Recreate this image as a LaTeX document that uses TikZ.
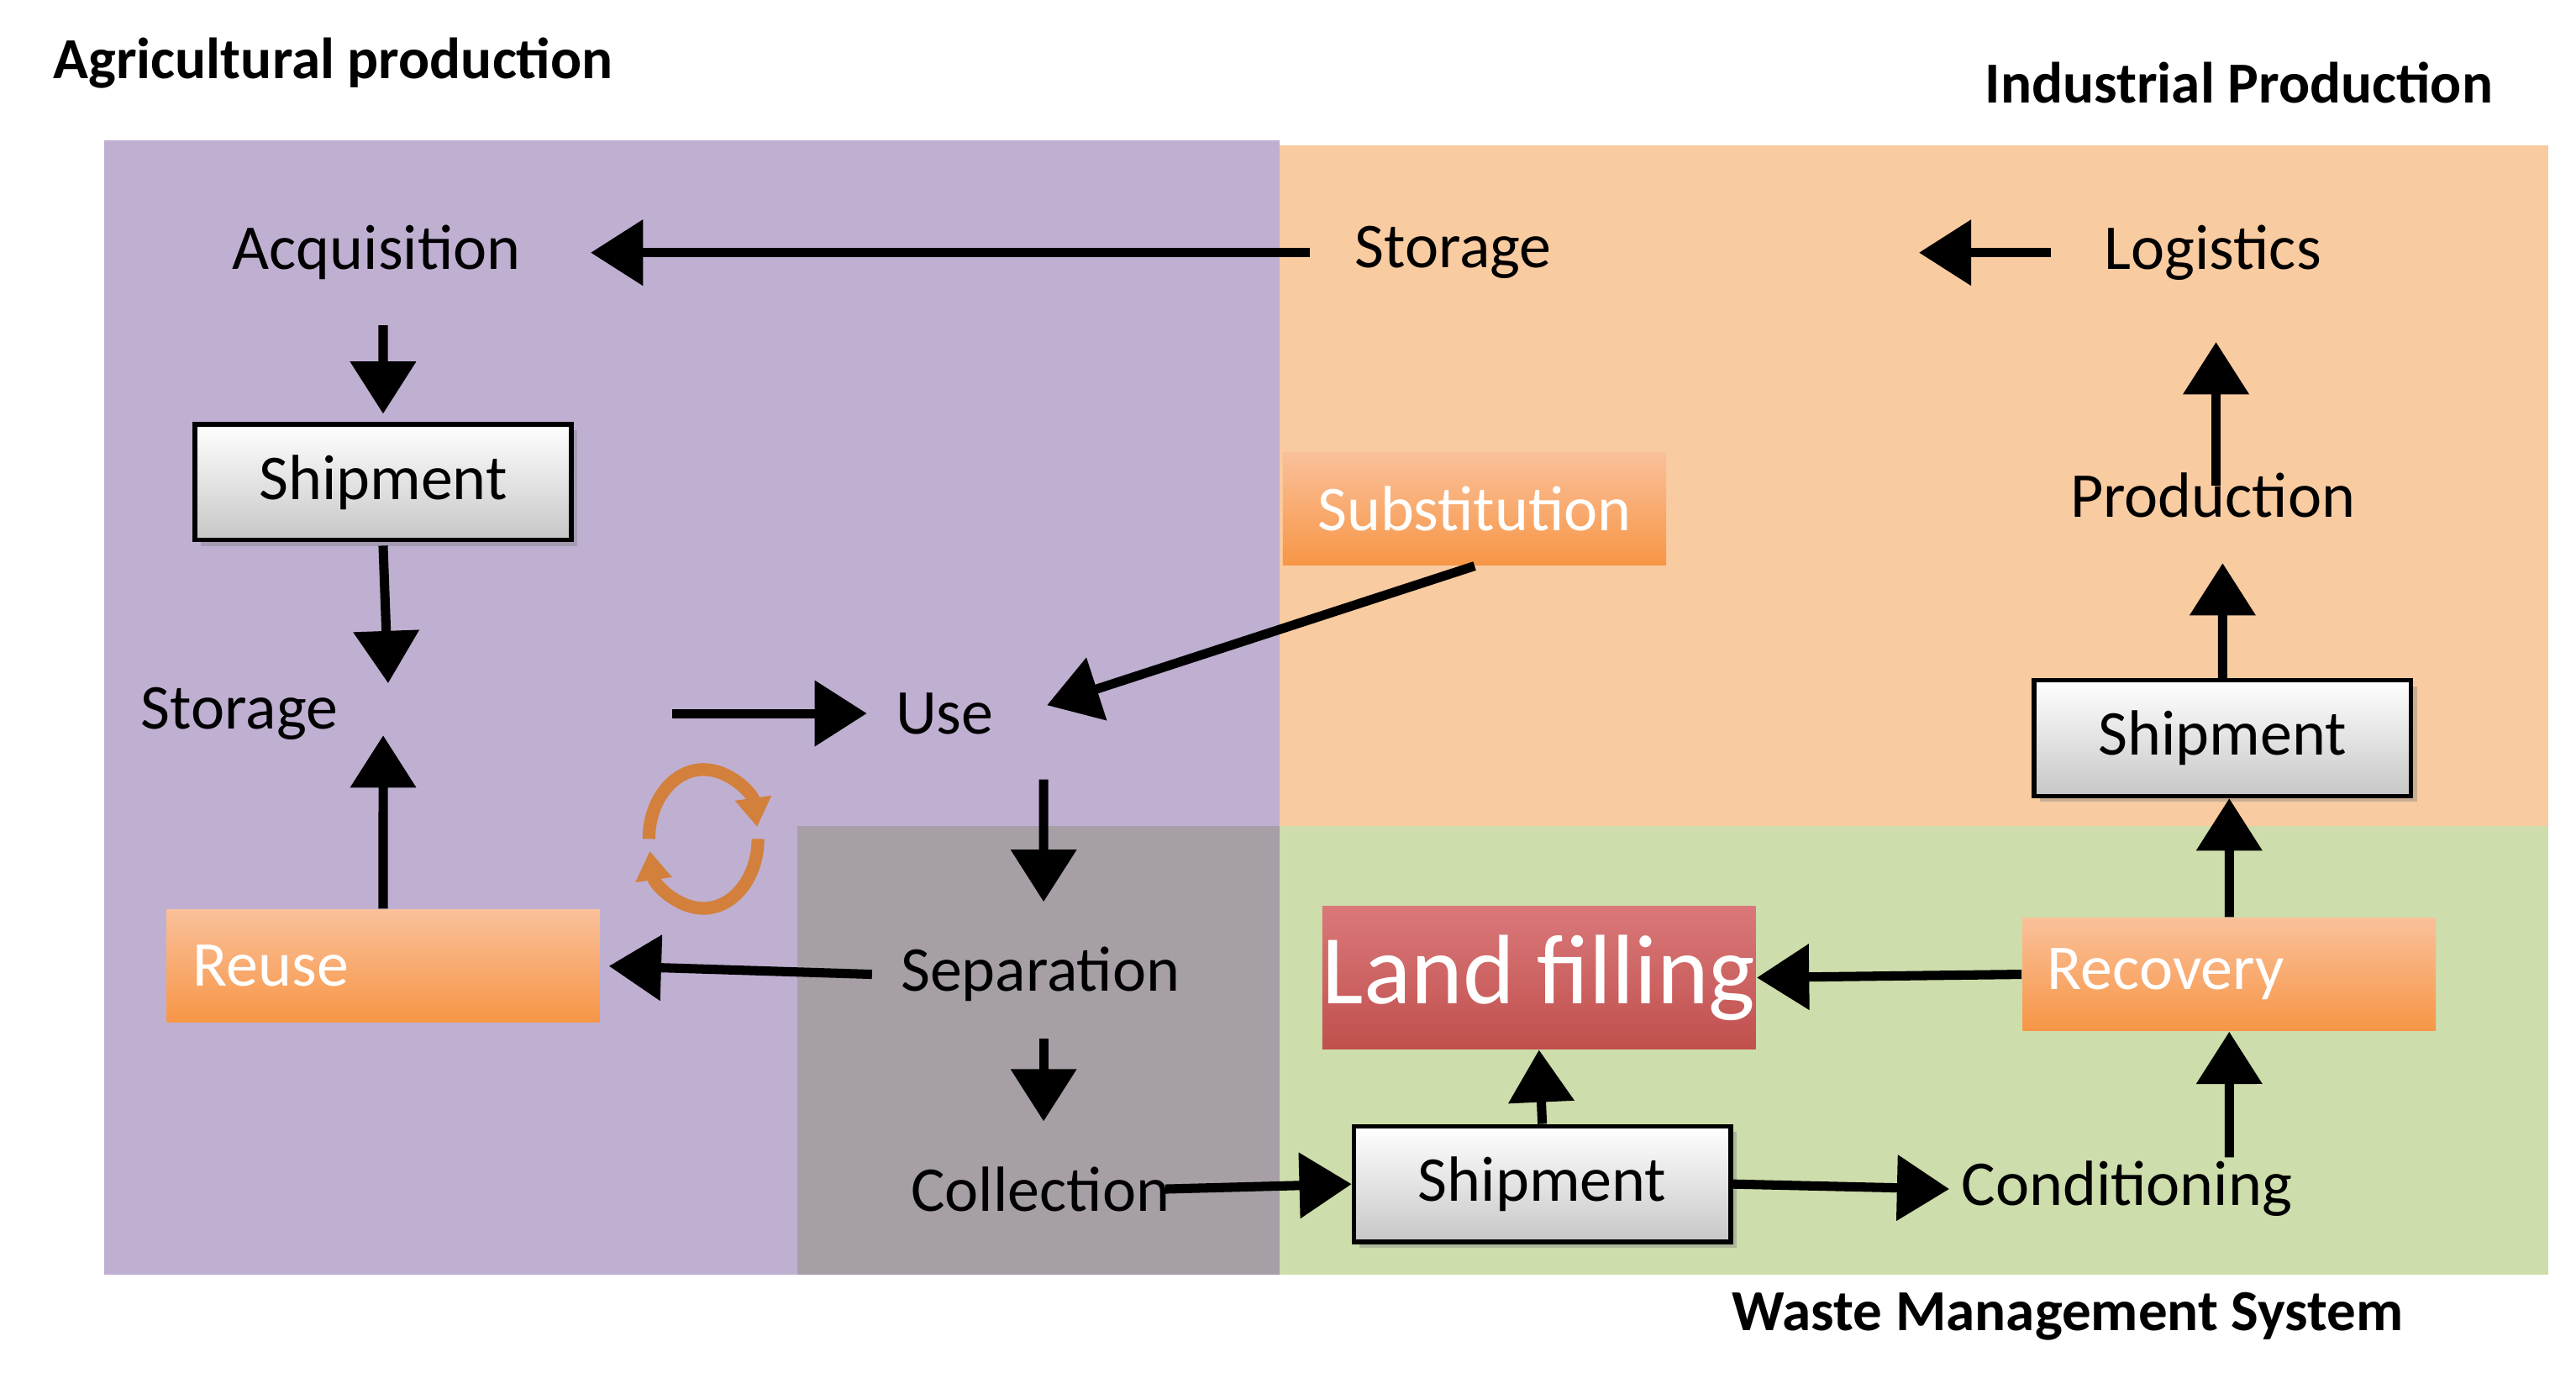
\documentclass[tikz,border=0pt]{standalone}
\usepackage{fontspec}
\setmainfont{Carlito}
\usetikzlibrary{arrows.meta,positioning,shadows}
\definecolor{agri}{HTML}{BFB0D2}
\definecolor{indu}{HTML}{F9CBA0}
\definecolor{waste}{HTML}{CDDDAB}
\definecolor{overlap}{HTML}{A79FA6}
\definecolor{orangetop}{HTML}{FAC09A}
\definecolor{orangebot}{HTML}{F79646}
\tikzset{
  flow/.style={line width=1.6pt,-{Triangle[length=9pt,width=11pt]}},
  stage/.style={font=\fontsize{11}{13}\selectfont},
  title/.style={font=\bfseries\fontsize{10}{12}\selectfont},
  ship/.style={draw=black,line width=0.8pt,top color=white,bottom color=black!22,
    minimum width=2.28cm,minimum height=0.7cm,font=\fontsize{11}{13}\selectfont,
    drop shadow={shadow xshift=1pt,shadow yshift=-1pt,opacity=0.4}},
  hot/.style={top color=orangetop,bottom color=orangebot,text=white,
    minimum height=0.68cm,font=\fontsize{11}{13}\selectfont},
}
\begin{document}
\begin{tikzpicture}[x=0.01cm,y=-0.01cm]
          \useasboundingbox (0,0) rectangle (1560,831);
          % regions
          \fill[agri] (63,85) rectangle (775,772);
          \fill[indu] (775,88) rectangle (1543,500);
          \fill[waste] (775,500) rectangle (1543,772);
          \fill[overlap] (483,500) rectangle (775,772);

          % titles
          \node[title, anchor=west] (agrititle) at (20,38) {Agricultural production};
          \node[title, anchor=east] (indutitle) at (1522,50) {Industrial Production};
          \node[title, anchor=east] (wastetitle) at (1468,797) {Waste Management System};

          % nodes
          \node[stage] (acquisition) at (228,153) {Acquisition};
          \node[stage] (storage_ind) at (880,153) {Storage};
          \node[stage] (logistics) at (1340,153) {Logistics};
          \node[ship] (ship_agri) at (232,292) {Shipment};
          \node[hot, minimum width=2.32cm] (substitution) at (893,308) {Substitution};
          \node[stage] (production) at (1340,300) {Production};
          \node[stage] (storage_agri) at (145,432) {Storage};
          \node[stage] (use) at (572,432) {Use};
          \node[ship] (ship_ind) at (1346,447) {Shipment};
          \node[hot, minimum width=2.62cm, text width=2.3cm] (reuse) at (232,585) {Reuse};
          \node[stage] (separation) at (630,590) {Separation};
          \node[top color={rgb,255:red,218;green,120;blue,122}, bottom color={rgb,255:red,192;green,80;blue,77},
                text=white, minimum width=2.5cm, minimum height=0.86cm,
                font=\fontsize{17}{19}\selectfont, inner xsep=0pt] (landfill) at (932,592) {Land filling};
          \node[hot, minimum width=2.5cm, text width=2.2cm] (recovery) at (1350,590) {Recovery};
          \node[stage] (collection) at (630,720) {Collection};
          \node[ship] (ship_waste) at (934,717) {Shipment};
          \node[stage] (conditioning) at (1288,720) {Conditioning};

          % edges
          \draw[flow] ([xshift=-0.15cm] storage_ind.west) -- ([xshift=0.3cm] acquisition.east);
          \draw[flow] ([xshift=-0.2cm] logistics.west) -- ([xshift=2.1cm] storage_ind.east);
          \draw[flow] ([xshift=0.04cm, yshift=-0.15cm] acquisition.south) -- ([yshift=0.05cm] ship_agri.north);
          \draw[flow] ([yshift=-0.02cm] ship_agri.south) -- ([xshift=0.9cm, yshift=-0.1cm] storage_agri.north);
          \draw[flow] (substitution.south) -- ([xshift=0.62cm, yshift=-0.2cm] use.north);
          \draw[flow] ([xshift=0.02cm, yshift=-0.2cm] production.north) -- ([xshift=0.02cm, yshift=-0.25cm] logistics.south);
          \draw[flow] (ship_ind.north) -- ([xshift=0.06cm, yshift=-0.15cm] production.south);
          \draw[flow] ([xshift=1.9cm] storage_agri.east) -- ([xshift=-0.05cm] use.west);
          \draw[flow] ([xshift=0.6cm, yshift=-0.15cm] use.south) -- ([xshift=0.02cm, yshift=0.15cm] separation.north);
          \draw[flow] (reuse.north) -- ([xshift=0.87cm, yshift=0.15cm] storage_agri.south);
          \draw[flow] ([xshift=-0.05cm] separation.west) -- ([xshift=0.05cm] reuse.east);
          \draw[flow] ([xshift=0.02cm, yshift=-0.1cm] separation.south) -- ([xshift=0.02cm, yshift=0.15cm] collection.north);
          \draw[flow] ([xshift=-0.15cm] collection.east) -- (ship_waste.west);
          \draw[flow] (ship_waste.north) -- (landfill.south);
          \draw[flow] (ship_waste.east) -- ([xshift=0.05cm] conditioning.west);
          \draw[flow] ([xshift=0.62cm, yshift=-0.1cm] conditioning.north) -- (recovery.south);
          \draw[flow] (recovery.west) -- (landfill.east);
          \draw[flow] (recovery.north) -- ([xshift=0.04cm] ship_ind.south);

          % cycle
          \coordinate (cycle) at (423,508);
          \draw[orangebot!85!black, line width=2.2pt, -{Triangle[length=5pt,width=6pt]}]
            ([xshift=-0.3cm] cycle) arc[start angle=180, end angle=10, x radius=0.33cm, y radius=0.42cm];
          \draw[orangebot!85!black, line width=2.2pt, -{Triangle[length=5pt,width=6pt]}]
            ([xshift=0.36cm] cycle) arc[start angle=0, end angle=-170, x radius=0.33cm, y radius=0.42cm];
\end{tikzpicture}
\end{document}
